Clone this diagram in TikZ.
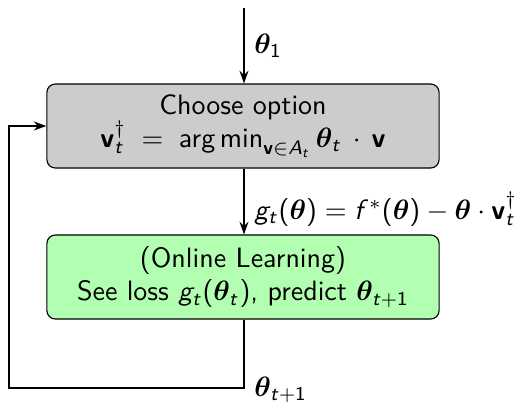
\documentclass[tikz,border=0pt]{standalone}
\usepackage{amsmath,bm}
\usetikzlibrary{arrows.meta}
\DeclareSymbolFont{operators}{OT1}{cmss}{m}{n}
\DeclareSymbolFont{sfletters}{OT1}{cmss}{m}{sl}
\DeclareMathSymbol{g}{\mathalpha}{sfletters}{`g}
\DeclareMathSymbol{f}{\mathalpha}{sfletters}{`f}
\DeclareMathSymbol{t}{\mathalpha}{sfletters}{`t}
\DeclareMathSymbol{A}{\mathalpha}{sfletters}{`A}
\newcommand{\bv}{\text{\sffamily\bfseries v}}
\newcommand{\bth}{\bm{\theta}}
\newcommand{\sfargmin}{\mathop{\text{\sffamily arg\,min}}\nolimits}
\tikzset{
  box/.style={draw, rounded corners=3pt, minimum width=140pt, minimum height=30pt,
    align=center, font=\sffamily, inner sep=2pt},
  arr/.style={-{Stealth[length=4.5pt,width=3.2pt]}},
  lbl/.style={right, inner sep=2pt, xshift=1.5pt}
}
\begin{document}
\begin{tikzpicture}[x=0.357pt, y=-0.357pt]
\useasboundingbox (0,0) rectangle (530,401);
\coordinate (start) at (244,8);
\node[box, fill=black!20] (choose) at (243,126)
  {Choose option\\ $\bv_t^\dagger \;=\; \sfargmin_{\bv\in A_t} \bth_t \,\cdot\, \bv$};
\node[box, fill=green!30] (learn) at (243,277)
  {(Online Learning)\\ See loss $g_t(\bth_t)$, predict $\bth_{t+1}$};
\coordinate (c1) at (244,388);
\coordinate (c2) at (9,388);
\coordinate (c3) at (9,126);
\draw[arr] (start) -- node[lbl, pos=0.5] {$\bth_1$} (start |- choose.north);
\draw[arr] (choose.south -| start) -- node[lbl, pos=0.62] {$g_t(\bth) = f^*(\bth) - \bth \cdot \bv_t^\dagger$} (learn.north -| start);
\draw[arr] (learn.south -| start) -- (c1) -- (c2) -- (c3) -- (choose.west);
\node[anchor=base west, inner sep=2pt, xshift=1.5pt, yshift=-3pt] (tlab) at (c1) {$\bth_{t+1}$};
\end{tikzpicture}
\end{document}
